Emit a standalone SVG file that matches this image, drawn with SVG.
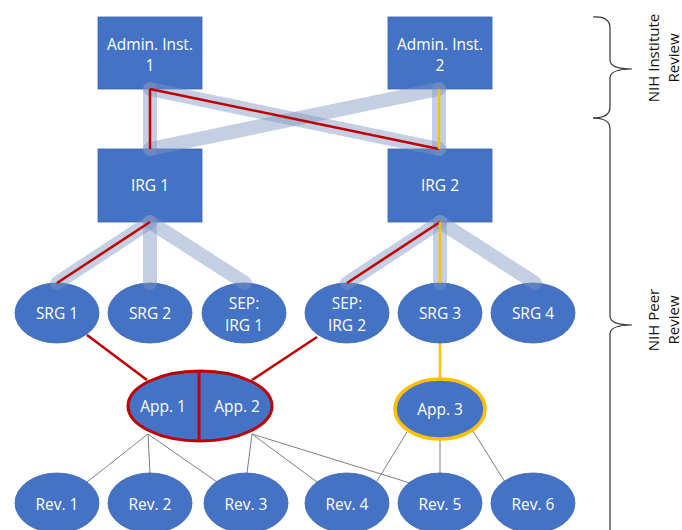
<svg xmlns="http://www.w3.org/2000/svg" width="682" height="530" viewBox="0 0 682 530">
<style>
.node{fill:#4472c4;stroke:#3b64ad;stroke-width:0.8}
.t{font-family:"Open Sans","Noto Sans",sans-serif;font-size:15.5px;fill:#ffffff;text-anchor:middle}
.lbl{font-family:"Open Sans","Noto Sans",sans-serif;font-size:15px;fill:#111;text-anchor:middle}
.thick{stroke:#7f95c2;stroke-opacity:0.45;stroke-width:14;stroke-linecap:round;fill:none}
.red{stroke:#c00000;stroke-width:2.5;fill:none}
.yel{stroke:#ffc000;stroke-width:2.5;fill:none}
.thin{stroke:#7f7f7f;stroke-width:1;fill:none}
.brace{stroke:#333;stroke-width:1.2;fill:none}
</style>
<rect width="682" height="530" fill="#ffffff"/>
<g id="connectors-lower">
<line class="red" x1="87" y1="335" x2="147" y2="380"/>
<line class="red" x1="317" y1="337" x2="252" y2="380"/>
<line class="yel" x1="440" y1="343" x2="440" y2="378"/>
<line class="thin" x1="148" y1="434" x2="87" y2="482"/>
<line class="thin" x1="148" y1="434" x2="150" y2="473"/>
<line class="thin" x1="148" y1="434" x2="217" y2="482"/>
<line class="thin" x1="252" y1="434" x2="247" y2="473"/>
<line class="thin" x1="252" y1="434" x2="317" y2="482"/>
<line class="thin" x1="252" y1="434" x2="410" y2="483"/>
<line class="thin" x1="407" y1="432" x2="377" y2="481"/>
<line class="thin" x1="440" y1="440" x2="440" y2="473"/>
<line class="thin" x1="473" y1="431" x2="505" y2="482"/>
</g>
<g id="admin1"><rect class="node" x="98" y="17" width="104" height="72"/><text class="t" x="150" y="50">Admin. Inst.</text><text class="t" x="150" y="71">1</text></g>
<g id="admin2"><rect class="node" x="388" y="17" width="104" height="72"/><text class="t" x="440" y="50">Admin. Inst.</text><text class="t" x="440" y="71">2</text></g>
<g id="irg1"><rect class="node" x="98" y="149" width="104" height="73"/><text class="t" x="150" y="191">IRG 1</text></g>
<g id="irg2"><rect class="node" x="388" y="149" width="104" height="73"/><text class="t" x="440" y="191">IRG 2</text></g>
<g id="srg1"><ellipse class="node" cx="57" cy="313" rx="42" ry="30"/><text class="t" x="57" y="319">SRG 1</text></g>
<g id="srg2"><ellipse class="node" cx="150" cy="313" rx="42" ry="30"/><text class="t" x="150" y="319">SRG 2</text></g>
<g id="sep-irg1"><ellipse class="node" cx="244" cy="313" rx="42" ry="30"/><text class="t" x="244" y="309">SEP:</text><text class="t" x="244" y="331">IRG 1</text></g>
<g id="sep-irg2"><ellipse class="node" cx="347" cy="313" rx="42" ry="30"/><text class="t" x="347" y="309">SEP:</text><text class="t" x="347" y="331">IRG 2</text></g>
<g id="srg3"><ellipse class="node" cx="440" cy="313" rx="42" ry="30"/><text class="t" x="440" y="319">SRG 3</text></g>
<g id="srg4"><ellipse class="node" cx="533" cy="313" rx="42" ry="30"/><text class="t" x="533" y="319">SRG 4</text></g>
<g id="app12"><ellipse cx="200" cy="406" rx="72" ry="35" fill="#4472c4" stroke="#c00000" stroke-width="3"/><line x1="199" y1="371" x2="199" y2="441" stroke="#c00000" stroke-width="3"/><text class="t" x="163" y="412">App. 1</text><text class="t" x="237" y="412">App. 2</text></g>
<g id="app3"><ellipse cx="440" cy="409" rx="45" ry="30" fill="#4472c4" stroke="#ffc000" stroke-width="3.5"/><text class="t" x="440" y="415">App. 3</text></g>
<g id="rev1"><ellipse class="node" cx="57" cy="503" rx="42" ry="30"/><text class="t" x="57" y="510">Rev. 1</text></g>
<g id="rev2"><ellipse class="node" cx="150" cy="503" rx="42" ry="30"/><text class="t" x="150" y="510">Rev. 2</text></g>
<g id="rev3"><ellipse class="node" cx="246" cy="503" rx="42" ry="30"/><text class="t" x="246" y="510">Rev. 3</text></g>
<g id="rev4"><ellipse class="node" cx="347" cy="503" rx="42" ry="30"/><text class="t" x="347" y="510">Rev. 4</text></g>
<g id="rev5"><ellipse class="node" cx="440" cy="503" rx="42" ry="30"/><text class="t" x="440" y="510">Rev. 5</text></g>
<g id="rev6"><ellipse class="node" cx="533" cy="503" rx="42" ry="30"/><text class="t" x="533" y="510">Rev. 6</text></g>
<g id="connectors">
<line class="thick" x1="150" y1="89" x2="150" y2="149"/>
<line class="thick" x1="150" y1="89" x2="439" y2="149"/>
<line class="thick" x1="439" y1="89" x2="150" y2="149"/>
<line class="thick" x1="439" y1="89" x2="439" y2="149"/>
<line class="thick" x1="150" y1="222" x2="57" y2="283"/>
<line class="thick" x1="150" y1="222" x2="150" y2="283"/>
<line class="thick" x1="150" y1="222" x2="245" y2="283"/>
<line class="thick" x1="440" y1="222" x2="347" y2="283"/>
<line class="thick" x1="440" y1="222" x2="440" y2="283"/>
<line class="thick" x1="440" y1="222" x2="535" y2="283"/>
<line class="red" x1="150" y1="89" x2="150" y2="149"/>
<line class="red" x1="150" y1="89" x2="439" y2="149"/>
<line class="yel" x1="439" y1="89" x2="439" y2="149"/>
<line class="red" x1="150" y1="222" x2="57" y2="283"/>
<line class="red" x1="440" y1="222" x2="347" y2="283"/>
<line class="yel" x1="440" y1="222" x2="440" y2="283"/>
</g>
<g id="braces">
<path class="brace" d="M593,17 Q610,16 610,28 L610,60 Q610,69 632,69 Q610,69 610,78 L610,107 Q610,118 593,118"/>
<path class="brace" d="M593,118 Q610,118 610,129 L610,316 Q610,325 632,325 Q610,325 610,334 L610,540"/>
</g>
<g id="labels">
<text class="lbl" transform="translate(659,58) rotate(-90)">NIH Institute</text>
<text class="lbl" transform="translate(679,58) rotate(-90)">Review</text>
<text class="lbl" transform="translate(659,320) rotate(-90)">NIH Peer</text>
<text class="lbl" transform="translate(679,320) rotate(-90)">Review</text>
</g>
</svg>
